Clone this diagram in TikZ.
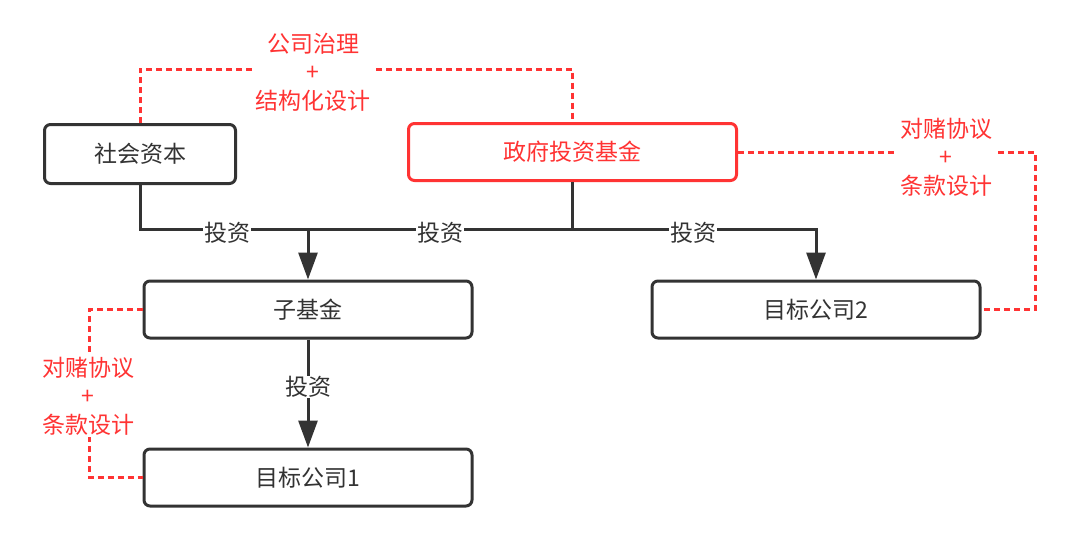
\documentclass[tikz,border=0pt]{standalone}
\usepackage{fontspec}
\setmainfont{Noto Sans CJK SC}
\usetikzlibrary{arrows.meta}
\definecolor{dk}{HTML}{333333}
\definecolor{rd}{HTML}{FF3333}
\begin{document}
\begin{tikzpicture}[x=1pt,y=-1pt,
  box/.style={draw=dk,line width=3pt,rounded corners=6pt,fill=white,text=dk,
    minimum width=328pt,minimum height=57pt,inner sep=0pt,
    font=\fontsize{23}{27}\selectfont},
  redbox/.style={box,draw=rd,text=rd},
  conn/.style={draw=dk,line width=3pt},
  arr/.style={conn,-{Triangle[length=27pt,width=19pt]}},
  dotl/.style={draw=rd,line width=3pt,dash pattern=on 6pt off 4pt},
  lbl/.style={fill=white,text=dk,inner xsep=1pt,inner ysep=0pt,font=\fontsize{23}{27}\selectfont},
  rlbl/.style={fill=white,text=rd,inner xsep=2pt,inner ysep=0pt,align=center,
    font=\fontsize{23}{28.5}\selectfont}]
\useasboundingbox (0,0) rectangle (1080,552);
\fill[white] (0,0) rectangle (1080,552);

\node[box,minimum width=191pt,minimum height=59pt] (shehui) at (140,154) {社会资本};
\node[redbox] (gov) at (572.5,152) {政府投资基金};
\node[box] (zi) at (308,309.5) {子基金};
\node[box] (t2) at (816,309.5) {目标公司2};
\node[box] (t1) at (308,477.5) {目标公司1};

\coordinate (j1) at (308,229);
\coordinate (j2) at (572.5,229);
\coordinate (c1) at (140,69);
\coordinate (c2) at (572.5,69);
\coordinate (c3) at (1035,152);
\coordinate (c4) at (1035,309.5);
\coordinate (c5) at (89,309.5);
\coordinate (c6) at (89,477.5);

% black connectors
\draw[arr] (shehui.south) |- (j1) -- (zi.north);
\draw[conn] (gov.south) -- (j2) -- (j1);
\draw[arr] (j2) -| (t2.north);
\draw[arr] (zi.south) -- (t1.north);

\node[lbl] (l1) at (227,233) {投资};
\node[lbl] (l2) at (440,233) {投资};
\node[lbl] (l3) at (693,233) {投资};
\node[lbl] (l4) at (308,387) {投资};

% red dotted connectors
\draw[dotl] (shehui.north) -- (c1) -- (c2) -- (gov.north);
\draw[dotl] (gov.east) -- (c3) -- (c4) -- (t2.east);
\draw[dotl] (zi.west) -- (c5) -- (c6) -- (t1.west);

\node[rlbl] (r1) at (313,72) {公司治理\\+\\结构化设计};
\node[rlbl] (r2) at (946,157) {对赌协议\\+\\条款设计};
\node[rlbl,inner ysep=2pt] (r3) at (88,396) {对赌协议\\+\\条款设计};
\end{tikzpicture}
\end{document}
